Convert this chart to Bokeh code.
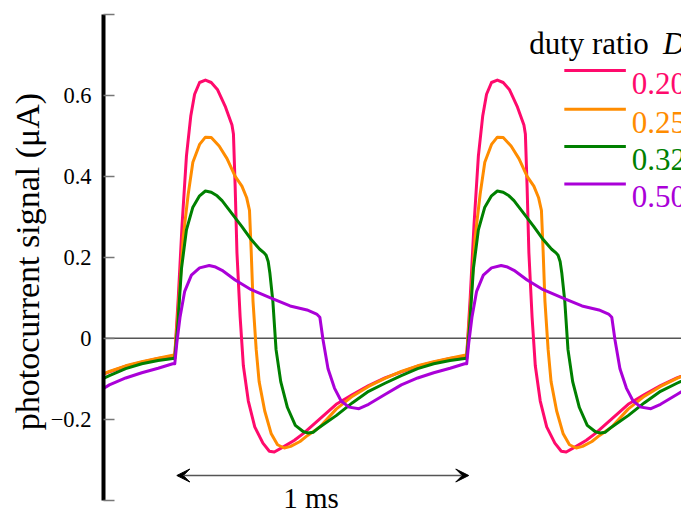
import numpy as np
from bokeh.plotting import figure
from bokeh.models import Range1d, FixedTicker, Span, Arrow, VeeHead, Label
from bokeh.embed import file_html
from bokeh.resources import INLINE

# ---- data (time in ms from the rising edge, one 1 ms period; signal in uA) ----
period_ms = 1.0
duty_labels = ["0.20", "0.25", "0.32", "0.50"]
colors = ["#ff0a6c", "#ff8c00", "#008000", "#aa00d8"]

t_020 = [0.000, 0.012, 0.025, 0.040, 0.055, 0.068, 0.085, 0.105, 0.125, 0.146, 0.174, 0.196,
         0.201, 0.207, 0.213, 0.224, 0.235, 0.252, 0.274, 0.302, 0.324, 0.341, 0.375, 0.410,
         0.441, 0.497, 0.553, 0.609, 0.664, 0.720, 0.776, 0.832, 0.887, 0.943, 0.993]
y_020 = [-0.044, 0.100, 0.280, 0.450, 0.550, 0.603, 0.632, 0.638, 0.632, 0.615, 0.571, 0.527,
         0.505, 0.372, 0.212, 0.052, -0.068, -0.155, -0.219, -0.259, -0.279, -0.281, -0.267, -0.252,
         -0.235, -0.199, -0.163, -0.139, -0.117, -0.098, -0.083, -0.069, -0.059, -0.050, -0.044]

t_025 = [0.000, 0.012, 0.029, 0.046, 0.062, 0.085, 0.105, 0.125, 0.152, 0.179, 0.207, 0.230,
         0.246, 0.256, 0.262, 0.268, 0.279, 0.289, 0.308, 0.330, 0.352, 0.375, 0.397, 0.429,
         0.455, 0.497, 0.553, 0.609, 0.664, 0.720, 0.776, 0.832, 0.887, 0.943, 0.993]
y_025 = [-0.042, 0.070, 0.250, 0.356, 0.435, 0.479, 0.497, 0.496, 0.475, 0.444, 0.400, 0.376,
         0.348, 0.316, 0.212, 0.092, -0.028, -0.107, -0.179, -0.235, -0.263, -0.271, -0.267, -0.255,
         -0.240, -0.219, -0.175, -0.143, -0.119, -0.099, -0.082, -0.068, -0.058, -0.049, -0.042]

t_032 = [0.000, 0.010, 0.023, 0.040, 0.062, 0.085, 0.105, 0.125, 0.145, 0.162, 0.196, 0.230,
         0.262, 0.291, 0.306, 0.313, 0.320, 0.326, 0.336, 0.347, 0.363, 0.386, 0.413, 0.441,
         0.458, 0.475, 0.497, 0.553, 0.609, 0.664, 0.720, 0.776, 0.832, 0.887, 0.943, 0.993]
y_032 = [-0.050, 0.030, 0.172, 0.268, 0.324, 0.352, 0.364, 0.361, 0.352, 0.340, 0.308, 0.276,
         0.244, 0.220, 0.211, 0.205, 0.190, 0.160, 0.092, -0.028, -0.107, -0.171, -0.215, -0.231,
         -0.234, -0.232, -0.219, -0.191, -0.159, -0.131, -0.111, -0.092, -0.075, -0.063, -0.055, -0.050]

t_050 = [0.000, 0.007, 0.018, 0.034, 0.057, 0.085, 0.118, 0.140, 0.162, 0.207, 0.262, 0.328,
         0.395, 0.453, 0.486, 0.497, 0.508, 0.525, 0.547, 0.570, 0.597, 0.631, 0.664, 0.720,
         0.776, 0.832, 0.887, 0.943, 0.993]
y_050 = [-0.063, -0.012, 0.052, 0.116, 0.156, 0.174, 0.180, 0.176, 0.168, 0.144, 0.120, 0.100,
         0.080, 0.070, 0.060, 0.052, -0.004, -0.075, -0.123, -0.155, -0.170, -0.174, -0.163, -0.139,
         -0.115, -0.098, -0.085, -0.074, -0.063]

y_ticks = [-0.4, -0.2, 0.0, 0.2, 0.4, 0.6, 0.8]
y_tick_labels = ["", "\u22120.2", "0", "0.2", "0.4", "0.6", ""]

series = [(t_020, y_020), (t_025, y_025), (t_032, y_032), (t_050, y_050)]

SERIF = "Liberation Serif"

p = figure(width=681, height=508, output_backend="svg", toolbar_location=None,
           x_range=Range1d(-0.2441, 1.7358), y_range=Range1d(-0.4205, 0.8),
           x_axis_location=None,
           min_border_left=103, min_border_right=0, min_border_top=14, min_border_bottom=0)
p.grid.visible = False
p.outline_line_color = None
p.background_fill_color = "white"
p.border_fill_color = "white"

ax = p.yaxis[0]
ax.bounds = (-0.4, 0.8)
ax.ticker = FixedTicker(ticks=y_ticks)
ax.major_label_overrides = {v: s for v, s in zip(y_ticks, y_tick_labels)}
ax.axis_line_width = 4
ax.axis_line_color = "black"
ax.major_tick_in = 11
ax.major_tick_out = 0
ax.major_tick_line_color = "#777777"
ax.major_tick_line_width = 1.5
ax.minor_tick_line_color = None
ax.major_label_text_font = SERIF
ax.major_label_text_font_size = "22.5px"
ax.major_label_text_color = "black"
ax.major_label_standoff = 12
ax.axis_label = "photocurrent signal (\u03bcA)"
ax.axis_label_text_font = SERIF
ax.axis_label_text_font_size = "34px"
ax.axis_label_text_font_style = "normal"
ax.axis_label_text_color = "black"
ax.axis_label_standoff = 2

p.add_layout(Span(location=0, dimension="width", line_color="#555555", line_width=1.5,
                  level="underlay"))

for (t, y), c in zip(series, colors):
    t = np.asarray(t)
    y = np.asarray(y)
    tt = np.concatenate([t + k * period_ms for k in (-1, 0, 1, 2)])
    yy = np.concatenate([y] * 4)
    p.line(tt, yy, line_color=c, line_width=3, line_join="round")

# 1 ms arrow
arr_y = -0.339
p.add_layout(Arrow(start=VeeHead(size=13, fill_color="black", line_color="black"),
                   end=VeeHead(size=13, fill_color="black", line_color="black"),
                   x_start=0.007, y_start=arr_y, x_end=0.007 + period_ms, y_end=arr_y,
                   line_color="#555555", line_width=1.5))
p.add_layout(Label(x=0.467, y=-0.395, text="1 ms", text_align="center",
                   text_baseline="alphabetic", text_font=SERIF, text_font_size="29px",
                   text_color="black"))

# legend
p.add_layout(Label(x=1.214, y=0.7293, text="duty ratio", text_font=SERIF,
                   text_font_size="31px", text_color="black", text_baseline="alphabetic"))
p.add_layout(Label(x=1.6722, y=0.7293, text="D", text_font=SERIF, text_font_style="italic",
                   text_font_size="31px", text_color="black", text_baseline="alphabetic"))
leg_line_y = [0.6616, 0.5657, 0.4738, 0.3813]
for lab, c, ly in zip(duty_labels, colors, leg_line_y):
    p.line([1.3344, 1.5452], [ly, ly], line_color=c, line_width=3)
    p.add_layout(Label(x=1.5652, y=ly - 0.0317, text=lab, text_font=SERIF,
                       text_font_size="31px", text_color=c, text_baseline="alphabetic"))

open("out.html", "w").write(file_html(p, INLINE))
